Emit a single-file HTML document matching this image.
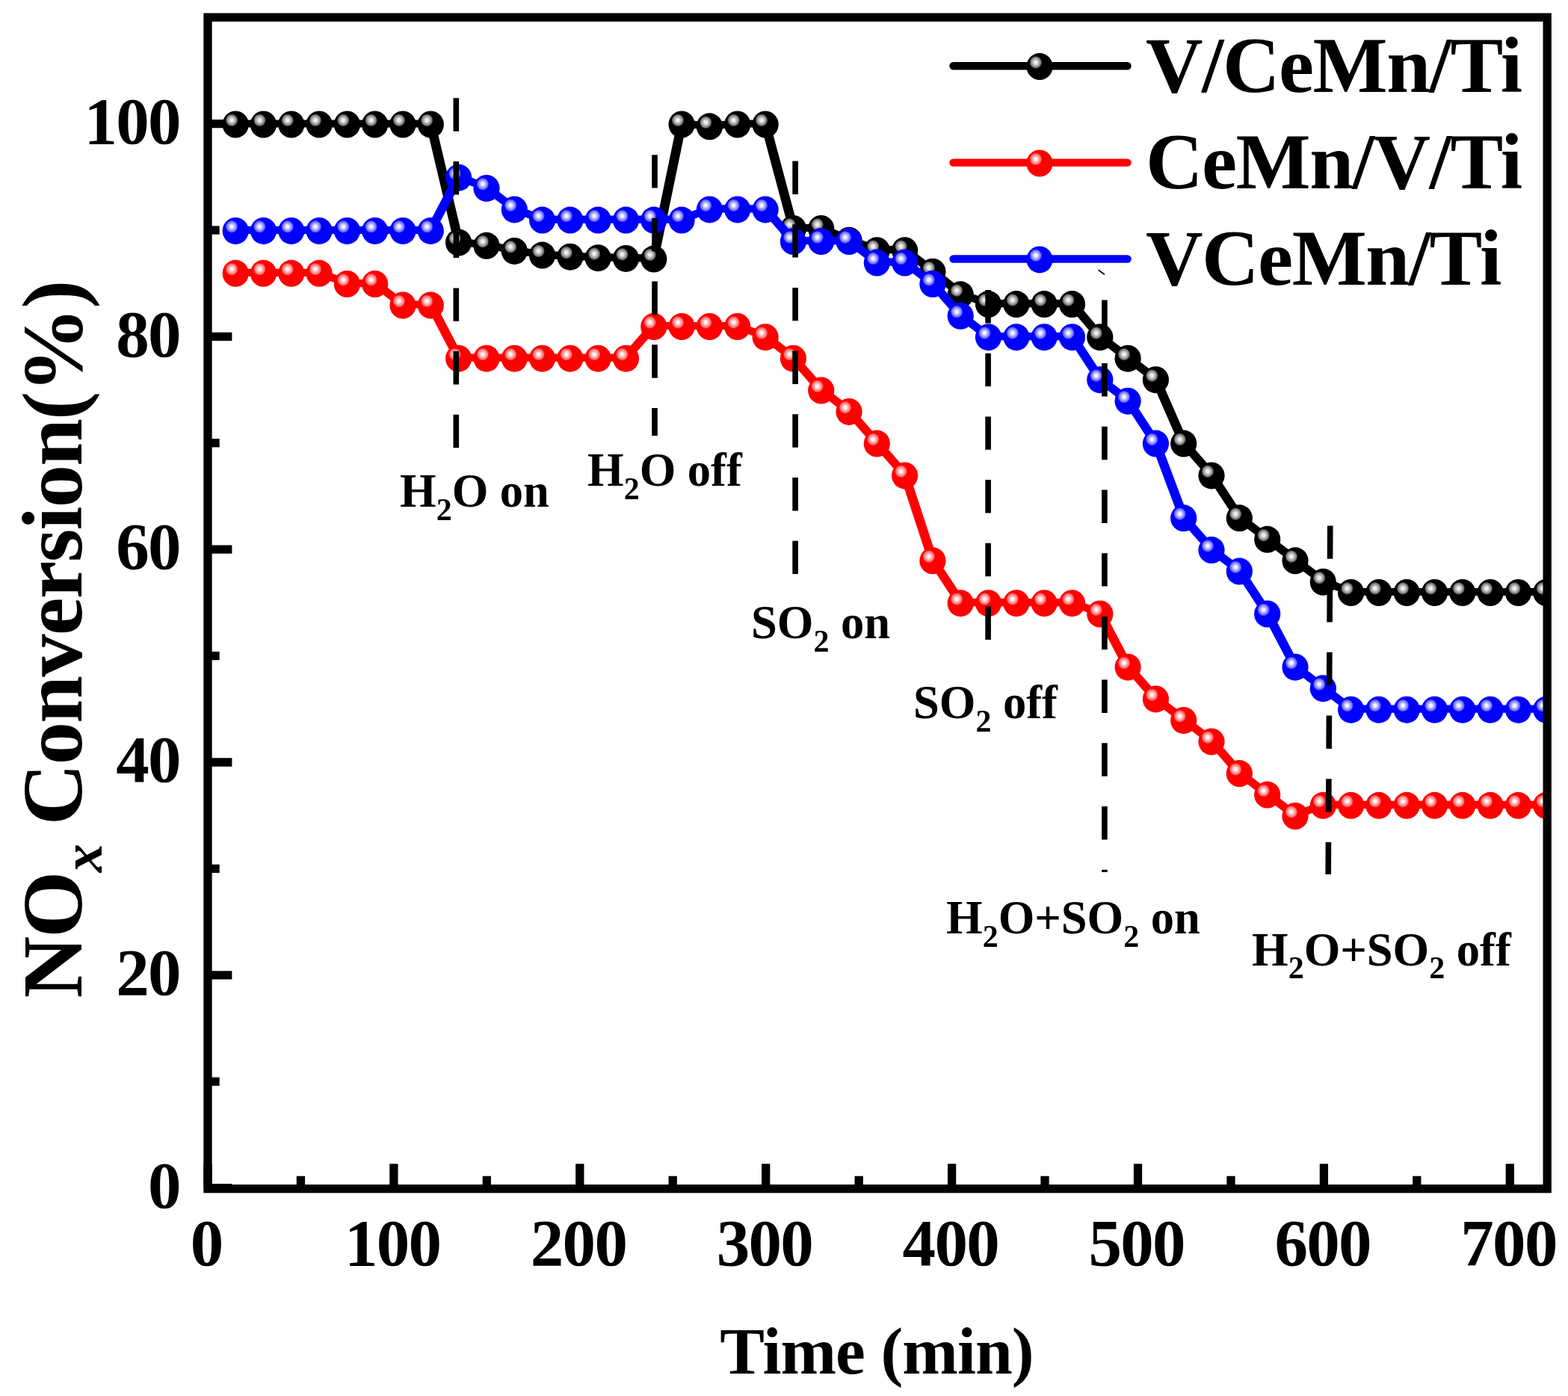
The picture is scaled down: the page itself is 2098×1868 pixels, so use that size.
<!DOCTYPE html>
<html><head><meta charset="utf-8"><title>NOx Conversion</title>
<style>
html,body{margin:0;padding:0;background:#fff;}
body{width:2098px;height:1868px;overflow:hidden;}
svg{display:block;}
text{font-family:"Liberation Serif","Times New Roman",serif;font-weight:bold;fill:#000;}
</style></head><body>
<svg width="2098" height="1868" viewBox="0 0 2098 1868">
<defs>
<radialGradient id="gk" cx="0.355" cy="0.344" r="0.5" fx="0.355" fy="0.344"><stop offset="0" stop-color="#f0f0f0"/><stop offset="0.1" stop-color="#f0f0f0"/><stop offset="0.22" stop-color="#bcbcbc"/><stop offset="0.38" stop-color="#7c7c7c"/><stop offset="0.48" stop-color="#000"/><stop offset="1" stop-color="#000"/></radialGradient>
<radialGradient id="gr" cx="0.355" cy="0.344" r="0.5" fx="0.355" fy="0.344"><stop offset="0" stop-color="#fff4f4"/><stop offset="0.1" stop-color="#fff4f4"/><stop offset="0.22" stop-color="#ffb4b4"/><stop offset="0.38" stop-color="#ff7070"/><stop offset="0.48" stop-color="#ff0000"/><stop offset="1" stop-color="#ff0000"/></radialGradient>
<radialGradient id="gb" cx="0.355" cy="0.344" r="0.5" fx="0.355" fy="0.344"><stop offset="0" stop-color="#f4f4ff"/><stop offset="0.1" stop-color="#f4f4ff"/><stop offset="0.22" stop-color="#b4b4ff"/><stop offset="0.38" stop-color="#7070ff"/><stop offset="0.48" stop-color="#0000ff"/><stop offset="1" stop-color="#0000ff"/></radialGradient>
</defs>
<rect x="0" y="0" width="2098" height="1868" fill="#fff"/>

<clipPath id="cp"><rect x="278.0" y="23.2" width="1792.1999999999998" height="1567.5"/></clipPath>
<g stroke="#000" stroke-width="11.3" fill="none"><line x1="278.0" y1="1589.6" x2="310.4" y2="1589.6"/><line x1="278.0" y1="1447.2" x2="293.7" y2="1447.2"/><line x1="278.0" y1="1304.8" x2="310.4" y2="1304.8"/><line x1="278.0" y1="1162.4" x2="293.7" y2="1162.4"/><line x1="278.0" y1="1020.0" x2="310.4" y2="1020.0"/><line x1="278.0" y1="877.6" x2="293.7" y2="877.6"/><line x1="278.0" y1="735.2" x2="310.4" y2="735.2"/><line x1="278.0" y1="592.8" x2="293.7" y2="592.8"/><line x1="278.0" y1="450.4" x2="310.4" y2="450.4"/><line x1="278.0" y1="308.0" x2="293.7" y2="308.0"/><line x1="278.0" y1="165.6" x2="310.4" y2="165.6"/><line x1="278.0" y1="1590.7" x2="278.0" y2="1557.3"/><line x1="402.4" y1="1590.7" x2="402.4" y2="1573.7"/><line x1="526.9" y1="1590.7" x2="526.9" y2="1557.3"/><line x1="651.3" y1="1590.7" x2="651.3" y2="1573.7"/><line x1="775.8" y1="1590.7" x2="775.8" y2="1557.3"/><line x1="900.2" y1="1590.7" x2="900.2" y2="1573.7"/><line x1="1024.7" y1="1590.7" x2="1024.7" y2="1557.3"/><line x1="1149.2" y1="1590.7" x2="1149.2" y2="1573.7"/><line x1="1273.6" y1="1590.7" x2="1273.6" y2="1557.3"/><line x1="1398.0" y1="1590.7" x2="1398.0" y2="1573.7"/><line x1="1522.5" y1="1590.7" x2="1522.5" y2="1557.3"/><line x1="1647.0" y1="1590.7" x2="1647.0" y2="1573.7"/><line x1="1771.4" y1="1590.7" x2="1771.4" y2="1557.3"/><line x1="1895.8" y1="1590.7" x2="1895.8" y2="1573.7"/><line x1="2020.3" y1="1590.7" x2="2020.3" y2="1557.3"/></g>
<g clip-path="url(#cp)">
<polyline transform="scale(1.25,1)" points="252.12,165.5 281.97,165.5 311.82,165.5 341.67,165.5 371.52,165.5 401.36,165.5 431.21,165.5 461.06,165.5 490.91,323.5 520.76,327.8 550.61,334.9 580.46,340.6 610.31,342.7 640.16,344.2 670.00,344.9 699.85,345.6 729.70,165.5 759.55,168.3 789.40,165.5 819.25,165.5 849.10,305.0 878.95,305.0 908.79,320.7 938.64,334.2 968.49,334.2 998.34,362.7 1028.19,393.3 1058.04,406.1 1087.89,406.1 1117.74,406.1 1147.58,406.1 1177.43,450.2 1207.28,478.7 1237.13,507.2 1266.98,592.6 1296.83,635.4 1326.68,692.3 1356.53,720.8 1386.38,749.3 1416.22,777.8 1446.07,792.0 1475.92,792.0 1505.77,792.0 1535.62,792.0 1565.47,792.0 1595.32,792.0 1625.17,792.0 1655.01,792.0" fill="none" stroke="#000" stroke-width="10.2" stroke-linejoin="round"/>
<ellipse cx="315.2" cy="166.5" rx="17.6" ry="18.0" fill="url(#gk)"/>
<ellipse cx="352.5" cy="166.5" rx="17.6" ry="18.0" fill="url(#gk)"/>
<ellipse cx="389.8" cy="166.5" rx="17.6" ry="18.0" fill="url(#gk)"/>
<ellipse cx="427.1" cy="166.5" rx="17.6" ry="18.0" fill="url(#gk)"/>
<ellipse cx="464.4" cy="166.5" rx="17.6" ry="18.0" fill="url(#gk)"/>
<ellipse cx="501.7" cy="166.5" rx="17.6" ry="18.0" fill="url(#gk)"/>
<ellipse cx="539.0" cy="166.5" rx="17.6" ry="18.0" fill="url(#gk)"/>
<ellipse cx="576.3" cy="166.5" rx="17.6" ry="18.0" fill="url(#gk)"/>
<ellipse cx="613.6" cy="324.5" rx="17.6" ry="18.0" fill="url(#gk)"/>
<ellipse cx="651.0" cy="328.8" rx="17.6" ry="18.0" fill="url(#gk)"/>
<ellipse cx="688.3" cy="335.9" rx="17.6" ry="18.0" fill="url(#gk)"/>
<ellipse cx="725.6" cy="341.6" rx="17.6" ry="18.0" fill="url(#gk)"/>
<ellipse cx="762.9" cy="343.7" rx="17.6" ry="18.0" fill="url(#gk)"/>
<ellipse cx="800.2" cy="345.2" rx="17.6" ry="18.0" fill="url(#gk)"/>
<ellipse cx="837.5" cy="345.9" rx="17.6" ry="18.0" fill="url(#gk)"/>
<ellipse cx="874.8" cy="346.6" rx="17.6" ry="18.0" fill="url(#gk)"/>
<ellipse cx="912.1" cy="166.5" rx="17.6" ry="18.0" fill="url(#gk)"/>
<ellipse cx="949.4" cy="169.3" rx="17.6" ry="18.0" fill="url(#gk)"/>
<ellipse cx="986.7" cy="166.5" rx="17.6" ry="18.0" fill="url(#gk)"/>
<ellipse cx="1024.1" cy="166.5" rx="17.6" ry="18.0" fill="url(#gk)"/>
<ellipse cx="1061.4" cy="306.0" rx="17.6" ry="18.0" fill="url(#gk)"/>
<ellipse cx="1098.7" cy="306.0" rx="17.6" ry="18.0" fill="url(#gk)"/>
<ellipse cx="1136.0" cy="321.7" rx="17.6" ry="18.0" fill="url(#gk)"/>
<ellipse cx="1173.3" cy="335.2" rx="17.6" ry="18.0" fill="url(#gk)"/>
<ellipse cx="1210.6" cy="335.2" rx="17.6" ry="18.0" fill="url(#gk)"/>
<ellipse cx="1247.9" cy="363.7" rx="17.6" ry="18.0" fill="url(#gk)"/>
<ellipse cx="1285.2" cy="394.3" rx="17.6" ry="18.0" fill="url(#gk)"/>
<ellipse cx="1322.5" cy="407.1" rx="17.6" ry="18.0" fill="url(#gk)"/>
<ellipse cx="1359.9" cy="407.1" rx="17.6" ry="18.0" fill="url(#gk)"/>
<ellipse cx="1397.2" cy="407.1" rx="17.6" ry="18.0" fill="url(#gk)"/>
<ellipse cx="1434.5" cy="407.1" rx="17.6" ry="18.0" fill="url(#gk)"/>
<ellipse cx="1471.8" cy="451.2" rx="17.6" ry="18.0" fill="url(#gk)"/>
<ellipse cx="1509.1" cy="479.7" rx="17.6" ry="18.0" fill="url(#gk)"/>
<ellipse cx="1546.4" cy="508.2" rx="17.6" ry="18.0" fill="url(#gk)"/>
<ellipse cx="1583.7" cy="593.6" rx="17.6" ry="18.0" fill="url(#gk)"/>
<ellipse cx="1621.0" cy="636.4" rx="17.6" ry="18.0" fill="url(#gk)"/>
<ellipse cx="1658.3" cy="693.3" rx="17.6" ry="18.0" fill="url(#gk)"/>
<ellipse cx="1695.7" cy="721.8" rx="17.6" ry="18.0" fill="url(#gk)"/>
<ellipse cx="1733.0" cy="750.3" rx="17.6" ry="18.0" fill="url(#gk)"/>
<ellipse cx="1770.3" cy="778.8" rx="17.6" ry="18.0" fill="url(#gk)"/>
<ellipse cx="1807.6" cy="793.0" rx="17.6" ry="18.0" fill="url(#gk)"/>
<ellipse cx="1844.9" cy="793.0" rx="17.6" ry="18.0" fill="url(#gk)"/>
<ellipse cx="1882.2" cy="793.0" rx="17.6" ry="18.0" fill="url(#gk)"/>
<ellipse cx="1919.5" cy="793.0" rx="17.6" ry="18.0" fill="url(#gk)"/>
<ellipse cx="1956.8" cy="793.0" rx="17.6" ry="18.0" fill="url(#gk)"/>
<ellipse cx="1994.1" cy="793.0" rx="17.6" ry="18.0" fill="url(#gk)"/>
<ellipse cx="2031.5" cy="793.0" rx="17.6" ry="18.0" fill="url(#gk)"/>
<ellipse cx="2068.8" cy="793.0" rx="17.6" ry="18.0" fill="url(#gk)"/>
<polyline transform="scale(1.25,1)" points="252.12,364.8 281.97,364.8 311.82,364.8 341.67,364.8 371.52,379.0 401.36,379.0 431.21,407.5 461.06,407.5 490.91,478.7 520.76,478.7 550.61,478.7 580.46,478.7 610.31,478.7 640.16,478.7 670.00,478.7 699.85,436.0 729.70,436.0 759.55,436.0 789.40,436.0 819.25,450.2 849.10,478.7 878.95,521.5 908.79,549.9 938.64,592.6 968.49,635.4 998.34,749.3 1028.19,806.2 1058.04,806.2 1087.89,806.2 1117.74,806.2 1147.58,806.2 1177.43,820.5 1207.28,891.7 1237.13,934.4 1266.98,962.9 1296.83,991.4 1326.68,1034.1 1356.53,1062.6 1386.38,1091.0 1416.22,1076.8 1446.07,1076.8 1475.92,1076.8 1505.77,1076.8 1535.62,1076.8 1565.47,1076.8 1595.32,1076.8 1625.17,1076.8 1655.01,1076.8" fill="none" stroke="#ff0000" stroke-width="10.2" stroke-linejoin="round"/>
<ellipse cx="315.2" cy="365.8" rx="17.6" ry="18.0" fill="url(#gr)"/>
<ellipse cx="352.5" cy="365.8" rx="17.6" ry="18.0" fill="url(#gr)"/>
<ellipse cx="389.8" cy="365.8" rx="17.6" ry="18.0" fill="url(#gr)"/>
<ellipse cx="427.1" cy="365.8" rx="17.6" ry="18.0" fill="url(#gr)"/>
<ellipse cx="464.4" cy="380.0" rx="17.6" ry="18.0" fill="url(#gr)"/>
<ellipse cx="501.7" cy="380.0" rx="17.6" ry="18.0" fill="url(#gr)"/>
<ellipse cx="539.0" cy="408.5" rx="17.6" ry="18.0" fill="url(#gr)"/>
<ellipse cx="576.3" cy="408.5" rx="17.6" ry="18.0" fill="url(#gr)"/>
<ellipse cx="613.6" cy="479.7" rx="17.6" ry="18.0" fill="url(#gr)"/>
<ellipse cx="651.0" cy="479.7" rx="17.6" ry="18.0" fill="url(#gr)"/>
<ellipse cx="688.3" cy="479.7" rx="17.6" ry="18.0" fill="url(#gr)"/>
<ellipse cx="725.6" cy="479.7" rx="17.6" ry="18.0" fill="url(#gr)"/>
<ellipse cx="762.9" cy="479.7" rx="17.6" ry="18.0" fill="url(#gr)"/>
<ellipse cx="800.2" cy="479.7" rx="17.6" ry="18.0" fill="url(#gr)"/>
<ellipse cx="837.5" cy="479.7" rx="17.6" ry="18.0" fill="url(#gr)"/>
<ellipse cx="874.8" cy="437.0" rx="17.6" ry="18.0" fill="url(#gr)"/>
<ellipse cx="912.1" cy="437.0" rx="17.6" ry="18.0" fill="url(#gr)"/>
<ellipse cx="949.4" cy="437.0" rx="17.6" ry="18.0" fill="url(#gr)"/>
<ellipse cx="986.7" cy="437.0" rx="17.6" ry="18.0" fill="url(#gr)"/>
<ellipse cx="1024.1" cy="451.2" rx="17.6" ry="18.0" fill="url(#gr)"/>
<ellipse cx="1061.4" cy="479.7" rx="17.6" ry="18.0" fill="url(#gr)"/>
<ellipse cx="1098.7" cy="522.5" rx="17.6" ry="18.0" fill="url(#gr)"/>
<ellipse cx="1136.0" cy="550.9" rx="17.6" ry="18.0" fill="url(#gr)"/>
<ellipse cx="1173.3" cy="593.6" rx="17.6" ry="18.0" fill="url(#gr)"/>
<ellipse cx="1210.6" cy="636.4" rx="17.6" ry="18.0" fill="url(#gr)"/>
<ellipse cx="1247.9" cy="750.3" rx="17.6" ry="18.0" fill="url(#gr)"/>
<ellipse cx="1285.2" cy="807.2" rx="17.6" ry="18.0" fill="url(#gr)"/>
<ellipse cx="1322.5" cy="807.2" rx="17.6" ry="18.0" fill="url(#gr)"/>
<ellipse cx="1359.9" cy="807.2" rx="17.6" ry="18.0" fill="url(#gr)"/>
<ellipse cx="1397.2" cy="807.2" rx="17.6" ry="18.0" fill="url(#gr)"/>
<ellipse cx="1434.5" cy="807.2" rx="17.6" ry="18.0" fill="url(#gr)"/>
<ellipse cx="1471.8" cy="821.5" rx="17.6" ry="18.0" fill="url(#gr)"/>
<ellipse cx="1509.1" cy="892.7" rx="17.6" ry="18.0" fill="url(#gr)"/>
<ellipse cx="1546.4" cy="935.4" rx="17.6" ry="18.0" fill="url(#gr)"/>
<ellipse cx="1583.7" cy="963.9" rx="17.6" ry="18.0" fill="url(#gr)"/>
<ellipse cx="1621.0" cy="992.4" rx="17.6" ry="18.0" fill="url(#gr)"/>
<ellipse cx="1658.3" cy="1035.1" rx="17.6" ry="18.0" fill="url(#gr)"/>
<ellipse cx="1695.7" cy="1063.6" rx="17.6" ry="18.0" fill="url(#gr)"/>
<ellipse cx="1733.0" cy="1092.0" rx="17.6" ry="18.0" fill="url(#gr)"/>
<ellipse cx="1770.3" cy="1077.8" rx="17.6" ry="18.0" fill="url(#gr)"/>
<ellipse cx="1807.6" cy="1077.8" rx="17.6" ry="18.0" fill="url(#gr)"/>
<ellipse cx="1844.9" cy="1077.8" rx="17.6" ry="18.0" fill="url(#gr)"/>
<ellipse cx="1882.2" cy="1077.8" rx="17.6" ry="18.0" fill="url(#gr)"/>
<ellipse cx="1919.5" cy="1077.8" rx="17.6" ry="18.0" fill="url(#gr)"/>
<ellipse cx="1956.8" cy="1077.8" rx="17.6" ry="18.0" fill="url(#gr)"/>
<ellipse cx="1994.1" cy="1077.8" rx="17.6" ry="18.0" fill="url(#gr)"/>
<ellipse cx="2031.5" cy="1077.8" rx="17.6" ry="18.0" fill="url(#gr)"/>
<ellipse cx="2068.8" cy="1077.8" rx="17.6" ry="18.0" fill="url(#gr)"/>
<polyline transform="scale(1.25,1)" points="252.12,307.9 281.97,307.9 311.82,307.9 341.67,307.9 371.52,307.9 401.36,307.9 431.21,307.9 461.06,307.9 490.91,236.7 520.76,250.9 550.61,279.4 580.46,293.6 610.31,293.6 640.16,293.6 670.00,293.6 699.85,293.6 729.70,293.6 759.55,279.4 789.40,279.4 819.25,279.4 849.10,322.1 878.95,322.1 908.79,322.1 938.64,350.6 968.49,350.6 998.34,379.0 1028.19,421.8 1058.04,450.2 1087.89,450.2 1117.74,450.2 1147.58,450.2 1177.43,507.2 1207.28,535.7 1237.13,592.6 1266.98,692.3 1296.83,735.1 1326.68,763.5 1356.53,820.5 1386.38,891.7 1416.22,920.2 1446.07,948.7 1475.92,948.7 1505.77,948.7 1535.62,948.7 1565.47,948.7 1595.32,948.7 1625.17,948.7 1655.01,948.7" fill="none" stroke="#0000ff" stroke-width="10.2" stroke-linejoin="round"/>
<ellipse cx="315.2" cy="308.9" rx="17.6" ry="18.0" fill="url(#gb)"/>
<ellipse cx="352.5" cy="308.9" rx="17.6" ry="18.0" fill="url(#gb)"/>
<ellipse cx="389.8" cy="308.9" rx="17.6" ry="18.0" fill="url(#gb)"/>
<ellipse cx="427.1" cy="308.9" rx="17.6" ry="18.0" fill="url(#gb)"/>
<ellipse cx="464.4" cy="308.9" rx="17.6" ry="18.0" fill="url(#gb)"/>
<ellipse cx="501.7" cy="308.9" rx="17.6" ry="18.0" fill="url(#gb)"/>
<ellipse cx="539.0" cy="308.9" rx="17.6" ry="18.0" fill="url(#gb)"/>
<ellipse cx="576.3" cy="308.9" rx="17.6" ry="18.0" fill="url(#gb)"/>
<ellipse cx="613.6" cy="237.7" rx="17.6" ry="18.0" fill="url(#gb)"/>
<ellipse cx="651.0" cy="251.9" rx="17.6" ry="18.0" fill="url(#gb)"/>
<ellipse cx="688.3" cy="280.4" rx="17.6" ry="18.0" fill="url(#gb)"/>
<ellipse cx="725.6" cy="294.6" rx="17.6" ry="18.0" fill="url(#gb)"/>
<ellipse cx="762.9" cy="294.6" rx="17.6" ry="18.0" fill="url(#gb)"/>
<ellipse cx="800.2" cy="294.6" rx="17.6" ry="18.0" fill="url(#gb)"/>
<ellipse cx="837.5" cy="294.6" rx="17.6" ry="18.0" fill="url(#gb)"/>
<ellipse cx="874.8" cy="294.6" rx="17.6" ry="18.0" fill="url(#gb)"/>
<ellipse cx="912.1" cy="294.6" rx="17.6" ry="18.0" fill="url(#gb)"/>
<ellipse cx="949.4" cy="280.4" rx="17.6" ry="18.0" fill="url(#gb)"/>
<ellipse cx="986.7" cy="280.4" rx="17.6" ry="18.0" fill="url(#gb)"/>
<ellipse cx="1024.1" cy="280.4" rx="17.6" ry="18.0" fill="url(#gb)"/>
<ellipse cx="1061.4" cy="323.1" rx="17.6" ry="18.0" fill="url(#gb)"/>
<ellipse cx="1098.7" cy="323.1" rx="17.6" ry="18.0" fill="url(#gb)"/>
<ellipse cx="1136.0" cy="323.1" rx="17.6" ry="18.0" fill="url(#gb)"/>
<ellipse cx="1173.3" cy="351.6" rx="17.6" ry="18.0" fill="url(#gb)"/>
<ellipse cx="1210.6" cy="351.6" rx="17.6" ry="18.0" fill="url(#gb)"/>
<ellipse cx="1247.9" cy="380.0" rx="17.6" ry="18.0" fill="url(#gb)"/>
<ellipse cx="1285.2" cy="422.8" rx="17.6" ry="18.0" fill="url(#gb)"/>
<ellipse cx="1322.5" cy="451.2" rx="17.6" ry="18.0" fill="url(#gb)"/>
<ellipse cx="1359.9" cy="451.2" rx="17.6" ry="18.0" fill="url(#gb)"/>
<ellipse cx="1397.2" cy="451.2" rx="17.6" ry="18.0" fill="url(#gb)"/>
<ellipse cx="1434.5" cy="451.2" rx="17.6" ry="18.0" fill="url(#gb)"/>
<ellipse cx="1471.8" cy="508.2" rx="17.6" ry="18.0" fill="url(#gb)"/>
<ellipse cx="1509.1" cy="536.7" rx="17.6" ry="18.0" fill="url(#gb)"/>
<ellipse cx="1546.4" cy="593.6" rx="17.6" ry="18.0" fill="url(#gb)"/>
<ellipse cx="1583.7" cy="693.3" rx="17.6" ry="18.0" fill="url(#gb)"/>
<ellipse cx="1621.0" cy="736.1" rx="17.6" ry="18.0" fill="url(#gb)"/>
<ellipse cx="1658.3" cy="764.5" rx="17.6" ry="18.0" fill="url(#gb)"/>
<ellipse cx="1695.7" cy="821.5" rx="17.6" ry="18.0" fill="url(#gb)"/>
<ellipse cx="1733.0" cy="892.7" rx="17.6" ry="18.0" fill="url(#gb)"/>
<ellipse cx="1770.3" cy="921.2" rx="17.6" ry="18.0" fill="url(#gb)"/>
<ellipse cx="1807.6" cy="949.7" rx="17.6" ry="18.0" fill="url(#gb)"/>
<ellipse cx="1844.9" cy="949.7" rx="17.6" ry="18.0" fill="url(#gb)"/>
<ellipse cx="1882.2" cy="949.7" rx="17.6" ry="18.0" fill="url(#gb)"/>
<ellipse cx="1919.5" cy="949.7" rx="17.6" ry="18.0" fill="url(#gb)"/>
<ellipse cx="1956.8" cy="949.7" rx="17.6" ry="18.0" fill="url(#gb)"/>
<ellipse cx="1994.1" cy="949.7" rx="17.6" ry="18.0" fill="url(#gb)"/>
<ellipse cx="2031.5" cy="949.7" rx="17.6" ry="18.0" fill="url(#gb)"/>
<ellipse cx="2068.8" cy="949.7" rx="17.6" ry="18.0" fill="url(#gb)"/>
</g>
<g stroke="#000" stroke-width="7.6" stroke-dasharray="44.4 40.3" fill="none"><line x1="610.3" y1="131.3" x2="610.3" y2="599.6"/><line x1="876.0" y1="207.2" x2="876.0" y2="583.0"/><line x1="1064.1" y1="215.5" x2="1064.1" y2="769.0"/><line x1="1322.1" y1="388.0" x2="1322.1" y2="860.0"/><line x1="1477.9" y1="401.4" x2="1477.9" y2="1167.0"/><line x1="1779.8" y1="703.4" x2="1777.2" y2="1170.0"/></g>
<line x1="1470" y1="361.5" x2="1477.5" y2="367" stroke="#000" stroke-width="1.6" stroke-linecap="round"/>
<rect x="278.0" y="23.2" width="1792.2" height="1567.5" fill="none" stroke="#000" stroke-width="11.3"/>
<text transform="translate(240.8,1615.8)" font-size="89" letter-spacing="-1.7" text-anchor="end">0</text>
<text transform="translate(240.8,1331.0)" font-size="89" letter-spacing="-1.7" text-anchor="end">20</text>
<text transform="translate(240.8,1046.2)" font-size="89" letter-spacing="-1.7" text-anchor="end">40</text>
<text transform="translate(240.8,761.4)" font-size="89" letter-spacing="-1.7" text-anchor="end">60</text>
<text transform="translate(240.8,476.6)" font-size="89" letter-spacing="-1.7" text-anchor="end">80</text>
<text transform="translate(240.8,191.8)" font-size="89" letter-spacing="-1.7" text-anchor="end">100</text>
<text transform="translate(276.2,1692.7)" font-size="89" letter-spacing="-1.7" text-anchor="middle">0</text>
<text transform="translate(525.1,1692.7)" font-size="89" letter-spacing="-1.7" text-anchor="middle">100</text>
<text transform="translate(774.0,1692.7)" font-size="89" letter-spacing="-1.7" text-anchor="middle">200</text>
<text transform="translate(1022.9,1692.7)" font-size="89" letter-spacing="-1.7" text-anchor="middle">300</text>
<text transform="translate(1271.8,1692.7)" font-size="89" letter-spacing="-1.7" text-anchor="middle">400</text>
<text transform="translate(1520.7,1692.7)" font-size="89" letter-spacing="-1.7" text-anchor="middle">500</text>
<text transform="translate(1769.6,1692.7)" font-size="89" letter-spacing="-1.7" text-anchor="middle">600</text>
<text transform="translate(2018.5,1692.7)" font-size="89" letter-spacing="-1.7" text-anchor="middle">700</text>
<text transform="translate(1173,1838.3)" font-size="89.5" letter-spacing="-0.9" text-anchor="middle">Time (min)</text>
<text transform="translate(108.8,856) rotate(-90)" font-size="114.5" letter-spacing="-1.75" text-anchor="middle">NO<tspan font-size="76" dy="27.5" font-style="italic">x</tspan><tspan dy="-27.5"> Conversion(%)</tspan></text>
<line x1="1275.5" y1="88.2" x2="1508.5" y2="88.2" stroke="#000" stroke-width="10.4" stroke-linecap="round"/>
<ellipse cx="1391" cy="89.1" rx="17.6" ry="18.0" fill="url(#gk)"/>
<text transform="translate(1533,123)" font-size="106" letter-spacing="-1.5" text-anchor="start">V/CeMn/Ti</text>
<line x1="1275.5" y1="217.6" x2="1508.5" y2="217.6" stroke="#ff0000" stroke-width="10.4" stroke-linecap="round"/>
<ellipse cx="1391" cy="218.5" rx="17.6" ry="18.0" fill="url(#gr)"/>
<text transform="translate(1533,252.3)" font-size="106" letter-spacing="-1.5" text-anchor="start">CeMn/V/Ti</text>
<line x1="1275.5" y1="346.5" x2="1508.5" y2="346.5" stroke="#0000ff" stroke-width="10.4" stroke-linecap="round"/>
<ellipse cx="1391" cy="347.4" rx="17.6" ry="18.0" fill="url(#gb)"/>
<text transform="translate(1533,380.5)" font-size="106" letter-spacing="-1.5" text-anchor="start">VCeMn/Ti</text>
<text transform="translate(535,678.4)" font-size="62.5" letter-spacing="0" text-anchor="start"><tspan dy="0">H</tspan><tspan font-size="42" dy="17.5">2</tspan><tspan dy="-17.5">O on</tspan></text>
<text transform="translate(786,650)" font-size="62.5" letter-spacing="0" text-anchor="start"><tspan dy="0">H</tspan><tspan font-size="42" dy="17.5">2</tspan><tspan dy="-17.5">O off</tspan></text>
<text transform="translate(1005,854.2)" font-size="62.5" letter-spacing="0" text-anchor="start"><tspan dy="0">SO</tspan><tspan font-size="42" dy="17.5">2</tspan><tspan dy="-17.5"> on</tspan></text>
<text transform="translate(1222,961.2)" font-size="62.5" letter-spacing="0" text-anchor="start"><tspan dy="0">SO</tspan><tspan font-size="42" dy="17.5">2</tspan><tspan dy="-17.5"> off</tspan></text>
<text transform="translate(1266,1249)" font-size="62.5" letter-spacing="0" text-anchor="start"><tspan dy="0">H</tspan><tspan font-size="42" dy="17.5">2</tspan><tspan dy="-17.5">O+SO</tspan><tspan font-size="42" dy="17.5">2</tspan><tspan dy="-17.5"> on</tspan></text>
<text transform="translate(1675,1291.7)" font-size="62.5" letter-spacing="0" text-anchor="start"><tspan dy="0">H</tspan><tspan font-size="42" dy="17.5">2</tspan><tspan dy="-17.5">O+SO</tspan><tspan font-size="42" dy="17.5">2</tspan><tspan dy="-17.5"> off</tspan></text>
</svg></body></html>
